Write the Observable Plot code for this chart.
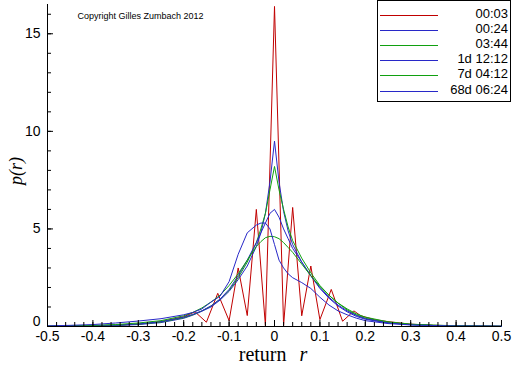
<!DOCTYPE html>
<html>
<head>
<meta charset="utf-8">
<script src="https://cdn.jsdelivr.net/npm/d3@7"></script>
<script src="https://cdn.jsdelivr.net/npm/@observablehq/plot@0.6"></script>
<style>
  html, body { margin: 0; padding: 0; background: #fff; }
  #wrap { position: relative; width: 512px; height: 366px; overflow: hidden; font-family: "Liberation Sans", Arial, sans-serif; }
  #wrap svg { display: block; }
  .legend { position: absolute; left: 377px; top: 0px; width: 132px; height: 100px; border: 1px solid #000; background: #fff; }
  .lrow { position: absolute; left: 0; width: 132px; height: 14px; }
  .lrow svg { position: absolute; left: 0; top: 0; }
  .lrow span { position: absolute; right: 2px; top: -1px; font-size: 13px; line-height: 14px; color: #000; }
  .ylab { position: absolute; left: 16px; top: 171px; transform: translate(-50%, -50%) rotate(-90deg); font-family: "Liberation Serif", "Times New Roman", serif; font-style: italic; font-size: 18px; white-space: nowrap; }
  .xlab { position: absolute; left: 273px; top: 343px; transform: translateX(-50%); font-family: "Liberation Serif", "Times New Roman", serif; font-size: 20px; white-space: nowrap; line-height: 22px; }
  .xlab i { margin-left: 13px; }
</style>
</head>
<body>
<div id="wrap"></div>
<script>
// ---- data ----
const seriesNames = ["00:03", "00:24", "03:44", "1d 12:12", "7d 04:12", "68d 06:24"];
const seriesColors = ["#c00000", "#2828c8", "#10a010", "#2828c8", "#10a010", "#2828c8"];

// return grid for the five smooth series
const gridR = [-0.5, -0.45, -0.4, -0.35, -0.3, -0.25, -0.2, -0.18, -0.16, -0.14, -0.12, -0.1, -0.08, -0.06, -0.04, -0.03, -0.02, -0.01, 0,
               0.01, 0.02, 0.03, 0.04, 0.06, 0.08, 0.1, 0.12, 0.14, 0.16, 0.18, 0.2, 0.25, 0.3, 0.35, 0.4, 0.45, 0.5];
const p0024 = [0.01, 0.02, 0.03, 0.05, 0.1, 0.2, 0.42, 0.58, 0.78, 1.0, 1.35, 1.8, 2.4, 3.1, 4.1, 4.8, 5.8, 7.4, 9.5,
               7.4, 5.9, 4.9, 4.2, 3.3, 2.6, 1.95, 1.45, 1.05, 0.75, 0.52, 0.37, 0.18, 0.09, 0.05, 0.03, 0.02, 0.01];
const p0344 = [0.01, 0.02, 0.04, 0.07, 0.12, 0.23, 0.45, 0.6, 0.8, 1.05, 1.4, 1.85, 2.5, 3.3, 4.3, 5.0, 5.8, 7.0, 8.2,
               7.0, 6.0, 5.1, 4.4, 3.5, 2.75, 2.1, 1.6, 1.2, 0.85, 0.6, 0.42, 0.2, 0.1, 0.06, 0.04, 0.02, 0.01];
const p1d1212 = [0.01, 0.02, 0.04, 0.07, 0.13, 0.25, 0.48, 0.62, 0.8, 1.05, 1.4, 1.9, 2.6, 3.4, 4.3, 4.8, 5.3, 5.8, 6.0,
                 5.6, 5.0, 4.5, 4.0, 3.3, 2.6, 2.0, 1.5, 1.1, 0.8, 0.57, 0.4, 0.19, 0.1, 0.05, 0.03, 0.02, 0.01];
const p7d0412 = [0.02, 0.04, 0.06, 0.1, 0.18, 0.3, 0.55, 0.72, 0.95, 1.25, 1.6, 2.1, 2.7, 3.4, 4.1, 4.35, 4.55, 4.62, 4.6,
                 4.5, 4.3, 4.05, 3.8, 3.2, 2.6, 2.05, 1.6, 1.2, 0.9, 0.65, 0.48, 0.24, 0.12, 0.07, 0.04, 0.02, 0.01];
const p68d0624 = [0.03, 0.06, 0.1, 0.18, 0.28, 0.4, 0.6, 0.72, 0.9, 1.25, 1.55, 2.3, 3.7, 4.8, 5.2, 5.3, 5.3, 5.0, 4.2,
                  3.4, 3.0, 2.7, 2.5, 2.25, 1.95, 1.5, 1.1, 0.8, 0.6, 0.43, 0.3, 0.15, 0.08, 0.05, 0.03, 0.02, 0.01];

// the 3-minute series (discrete price grid gives a zig-zag)
const redR = [-0.5, -0.45, -0.4, -0.35, -0.3, -0.25, -0.22, -0.2, -0.175, -0.15, -0.125, -0.1, -0.08, -0.06, -0.04, -0.02, 0,
              0.02, 0.04, 0.06, 0.08, 0.1, 0.125, 0.15, 0.175, 0.19, 0.22, 0.25, 0.3, 0.35, 0.4, 0.45, 0.5];
const p0003 = [0.01, 0.02, 0.04, 0.06, 0.12, 0.25, 0.4, 0.5, 0.75, 0.22, 1.7, 0.3, 3.0, 0.56, 6.0, 0.05, 16.4,
               0.05, 6.1, 0.55, 3.1, 0.35, 1.9, 0.27, 0.8, 0.55, 0.35, 0.25, 0.12, 0.06, 0.04, 0.02, 0.01];

const xTicks = [-0.5, -0.4, -0.3, -0.2, -0.1, 0, 0.1, 0.2, 0.3, 0.4, 0.5];
const xMinorTicks = d3.range(-25, 26).map(i => i / 50);
const yTicks = [0, 5, 10, 15];
const yMinorTicks = d3.range(0, 17);
const copyright = "Copyright Gilles Zumbach 2012";

// ---- build rows ----
const smooth = [p0024, p0344, p1d1212, p7d0412, p68d0624];
const rows = [];
p0003.forEach((p, i) => rows.push({series: seriesNames[0], r: redR[i], p}));
smooth.forEach((arr, k) => arr.forEach((p, i) => rows.push({series: seriesNames[k + 1], r: gridR[i], p})));

const chart = Plot.plot({
  width: 512,
  height: 366,
  marginLeft: 47,
  marginRight: 11,
  marginTop: 4,
  marginBottom: 40,
  x: {domain: [-0.5, 0.5]},
  y: {domain: [0, 16.5]},
  color: {domain: seriesNames, range: seriesColors},
  style: {fontFamily: "Liberation Sans, Arial, sans-serif", fontSize: "14px", background: "#fff", color: "#000", overflow: "visible"},
  marks: [
    Plot.line(rows, {x: "r", y: "p", z: "series", stroke: "series", strokeWidth: 1}),
    Plot.ruleY([0], {stroke: "#000"}),
    Plot.ruleX([-0.5], {stroke: "#000"}),
    // x axis labels
    Plot.axisX({ticks: xTicks, tickSize: 0, tickPadding: 5, label: null,
                tickFormat: d => d === 0 ? "0" : d.toFixed(1)}),
    // x axis ticks (inward)
    Plot.axisX({ticks: xTicks, tickSize: -6, fill: "none", label: null}),
    Plot.axisX({ticks: xMinorTicks, tickSize: -4, fill: "none", label: null}),
    // y axis labels (the 0 label nudged up so it clears the -0.5 label)
    Plot.axisY({ticks: yTicks.filter(d => d !== 0), tickSize: 0, tickPadding: 7, label: null}),
    Plot.axisY({ticks: yTicks.filter(d => d === 0), tickSize: 0, tickPadding: 7, dy: -5, label: null}),
    Plot.axisY({ticks: yTicks, tickSize: -6, fill: "none", label: null}),
    Plot.axisY({ticks: yMinorTicks, tickSize: -4, fill: "none", label: null}),
    Plot.text([copyright], {frameAnchor: "top-left", dx: 30, dy: 8, lineAnchor: "top", fontSize: 9, fill: "#000"})
  ]
});

const wrap = document.getElementById("wrap");
wrap.appendChild(chart);

// axis titles
const ylab = document.createElement("div");
ylab.className = "ylab";
ylab.textContent = "p(r)";
wrap.appendChild(ylab);

const xlab = document.createElement("div");
xlab.className = "xlab";
xlab.innerHTML = "return<i>r</i>";
wrap.appendChild(xlab);

// legend
const legend = document.createElement("div");
legend.className = "legend";
seriesNames.forEach((name, i) => {
  const row = document.createElement("div");
  row.className = "lrow";
  row.style.top = (15 + i * 15.1 - 7 - 1) + "px";
  row.innerHTML = `<svg width="70" height="14"><line x1="2" x2="60" y1="7.5" y2="7.5" stroke="${seriesColors[i]}" stroke-width="1"/></svg><span>${name}</span>`;
  legend.appendChild(row);
});
wrap.appendChild(legend);
</script>
</body>
</html>
